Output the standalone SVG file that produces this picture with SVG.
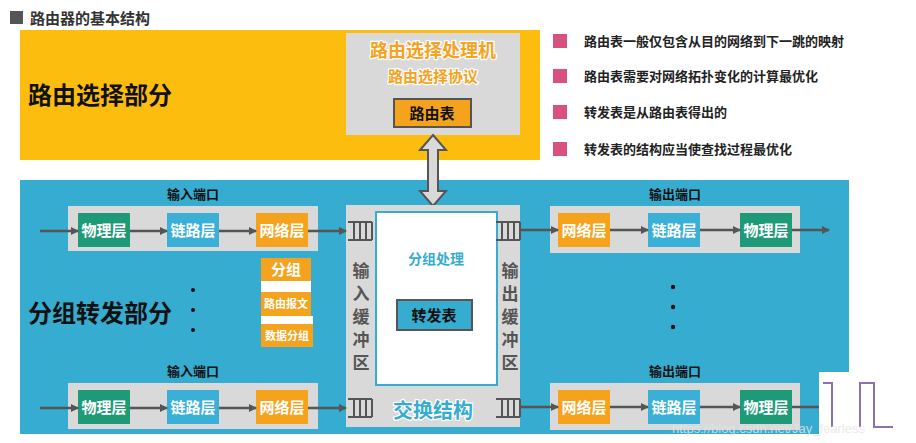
<svg xmlns="http://www.w3.org/2000/svg" width="916" height="443" viewBox="0 0 916 443">
<defs>
<marker id="ah" markerWidth="8" markerHeight="8" refX="7" refY="4" orient="auto" markerUnits="userSpaceOnUse"><path d="M0,0 L8,4 L0,8 z" fill="#555"/></marker>
<g id="buf"><path d="M0,0 H24 M0,18 H24 M6,0 V18 M12,0 V18 M18,0 V18 M24,0 V18" stroke="#555" stroke-width="2" fill="none"/></g>
</defs>
<style>
text{font-family:"Noto Sans CJK SC","Liberation Sans",sans-serif;font-weight:bold}
.lb{font-size:15px;fill:#fff;text-anchor:middle}
.sm{font-size:11px}
.phy{fill:#1f9a78}.lnk{fill:#3ab0d6}.net{fill:#f5a21c}
.panel{fill:#d9d9d9}
.port{font-size:13px;fill:#111;text-anchor:middle}
.bl{font-size:13px;fill:#222}
.pk{fill:#d9517e}
.con{stroke:#555;stroke-width:2.5;fill:none;marker-end:url(#ah)}
.vt{font-size:17px;fill:#555;text-anchor:middle}
.dot{fill:#111}
.halo{stroke:#fff;stroke-width:2.5;paint-order:stroke;stroke-linejoin:round}
</style>
<rect width="916" height="443" fill="#fff"/>
<g id="title"><rect x="10" y="11" width="13" height="13" fill="#555"/><text x="30" y="24" font-size="15" fill="#333">路由器的基本结构</text></g>
<g id="routing"><rect x="20" y="30" width="520" height="130" fill="#fdbd0f"/>
<text x="28" y="104" font-size="24" fill="#111">路由选择部分</text>
<rect x="346" y="33" width="174" height="102" fill="#d9d9d9"/>
<text class="halo" x="433" y="57" font-size="18" fill="#f5a21c" text-anchor="middle">路由选择处理机</text>
<text class="halo" x="433" y="82" font-size="15" fill="#f5a21c" text-anchor="middle">路由选择协议</text>
<rect x="394" y="99" width="77" height="28" fill="#f5a21c" stroke="#555" stroke-width="2"/>
<text x="432" y="119" font-size="15" fill="#111" text-anchor="middle">路由表</text></g>
<g id="bullets">
<rect class="pk" x="553" y="34" width="14" height="14"/><text class="bl" x="584" y="46">路由表一般仅包含从目的网络到下一跳的映射</text>
<rect class="pk" x="553" y="69" width="14" height="14"/><text class="bl" x="584" y="81">路由表需要对网络拓扑变化的计算最优化</text>
<rect class="pk" x="553" y="105" width="14" height="14"/><text class="bl" x="584" y="117">转发表是从路由表得出的</text>
<rect class="pk" x="553" y="142" width="14" height="14"/><text class="bl" x="584" y="154">转发表的结构应当使查找过程最优化</text></g>
<g id="forwarding"><rect x="20" y="180" width="829" height="254" fill="#36acd0"/>
<text x="28" y="322" font-size="24" fill="#111">分组转发部分</text>
<circle class="dot" cx="193" cy="290" r="2"/><circle class="dot" cx="193" cy="310" r="2"/><circle class="dot" cx="193" cy="330" r="2"/>
<circle class="dot" cx="673" cy="287" r="2.2"/><circle class="dot" cx="673" cy="307" r="2.2"/><circle class="dot" cx="673" cy="327" r="2.2"/></g>
<g id="double-arrow"><path d="M433,135 L446,150 L438,150 L438,191 L446,191 L433,206 L420,191 L428,191 L428,150 L420,150 Z" fill="#d9d9d9" stroke="#555" stroke-width="2"/></g>
<g id="in1"><text class="port" x="193" y="199">输入端口</text><rect class="panel" x="68" y="206" width="250" height="45"/>
<rect class="phy" x="78" y="213" width="52" height="34"/><text class="lb" x="104" y="236">物理层</text>
<rect class="lnk" x="167" y="213" width="52" height="34"/><text class="lb" x="193" y="236">链路层</text>
<rect class="net" x="256" y="213" width="52" height="34"/><text class="lb" x="282" y="236">网络层</text></g>
<g id="in2"><text class="port" x="193" y="376">输入端口</text><rect class="panel" x="68" y="383" width="250" height="46"/>
<rect class="phy" x="78" y="390" width="52" height="34"/><text class="lb" x="104" y="413">物理层</text>
<rect class="lnk" x="167" y="390" width="52" height="34"/><text class="lb" x="193" y="413">链路层</text>
<rect class="net" x="256" y="390" width="52" height="34"/><text class="lb" x="282" y="413">网络层</text></g>
<g id="out1"><text class="port" x="675" y="199">输出端口</text><rect class="panel" x="550" y="206" width="250" height="47"/>
<rect class="net" x="558" y="213" width="52" height="34"/><text class="lb" x="584" y="236">网络层</text>
<rect class="lnk" x="648" y="213" width="52" height="34"/><text class="lb" x="674" y="236">链路层</text>
<rect class="phy" x="740" y="213" width="52" height="34"/><text class="lb" x="766" y="236">物理层</text></g>
<g id="out2"><text class="port" x="675" y="376">输出端口</text><rect class="panel" x="550" y="383" width="250" height="47"/>
<rect class="net" x="558" y="390" width="52" height="34"/><text class="lb" x="584" y="413">网络层</text>
<rect class="lnk" x="648" y="390" width="52" height="34"/><text class="lb" x="674" y="413">链路层</text>
<rect class="phy" x="740" y="390" width="52" height="34"/><text class="lb" x="766" y="413">物理层</text></g>
<g id="packet"><rect x="261" y="258" width="50" height="23" fill="#f5a21c"/><text class="lb" x="286" y="275">分组</text>
<rect x="261" y="281" width="50" height="11" fill="#fff"/>
<rect x="261" y="292" width="50" height="24" fill="#f5a21c"/><text class="lb sm" x="286" y="308">路由报文</text>
<rect x="261" y="316" width="52" height="8" fill="#fff"/>
<rect x="261" y="324" width="52" height="23" fill="#f5a21c"/><text class="lb sm" x="287" y="340">数据分组</text></g>
<g id="switch"><rect x="346" y="205" width="174" height="222" fill="#d9d9d9"/>
<rect x="376" y="212" width="121" height="173" fill="#fff" stroke="#36acd0" stroke-width="2"/>
<use href="#buf" x="348" y="222"/><use href="#buf" x="348" y="399"/><use href="#buf" x="496" y="222"/><use href="#buf" x="496" y="399"/>
<text class="vt" x="361" y="277">输</text><text class="vt" x="361" y="300">入</text><text class="vt" x="361" y="323">缓</text><text class="vt" x="361" y="346">冲</text><text class="vt" x="361" y="369">区</text>
<text class="vt" x="510" y="277">输</text><text class="vt" x="510" y="300">出</text><text class="vt" x="510" y="323">缓</text><text class="vt" x="510" y="346">冲</text><text class="vt" x="510" y="369">区</text>
<text x="436" y="264" font-size="14" fill="#36acd0" text-anchor="middle">分组处理</text>
<rect x="397" y="300" width="75" height="30" fill="#36acd0" stroke="#555" stroke-width="2"/>
<text x="434" y="321" font-size="15" fill="#111" text-anchor="middle">转发表</text>
<text class="halo" x="433" y="418" font-size="20" fill="#36acd0" text-anchor="middle">交换结构</text></g>
<g id="connectors">
<path class="con" d="M40,231 H78"/><path class="con" d="M130,231 H167"/><path class="con" d="M219,231 H256"/><path class="con" d="M308,231 H346"/>
<path class="con" d="M40,408 H78"/><path class="con" d="M130,408 H167"/><path class="con" d="M219,408 H256"/><path class="con" d="M308,408 H346"/>
<path class="con" d="M520,230 H558"/><path class="con" d="M610,230 H648"/><path class="con" d="M700,230 H740"/><path class="con" d="M792,230 H829"/>
<path class="con" d="M520,407 H558"/><path class="con" d="M610,407 H648"/><path class="con" d="M700,407 H740"/><path class="con" d="M792,407 H829"/>
</g>
<g id="overlay"><rect x="819" y="372" width="97" height="71" fill="#fff"/>
<path d="M823,383 H832 V427 M860,427 V383 H874 V427 H893" stroke="#8a72b0" stroke-width="2" fill="none"/>
<text x="672" y="433" font-size="13" fill="#e6e6e6" opacity="0.8" style="font-weight:normal;font-family:'Liberation Sans',sans-serif">https://blog.csdn.net/Jay_fearless</text></g>
</svg>
